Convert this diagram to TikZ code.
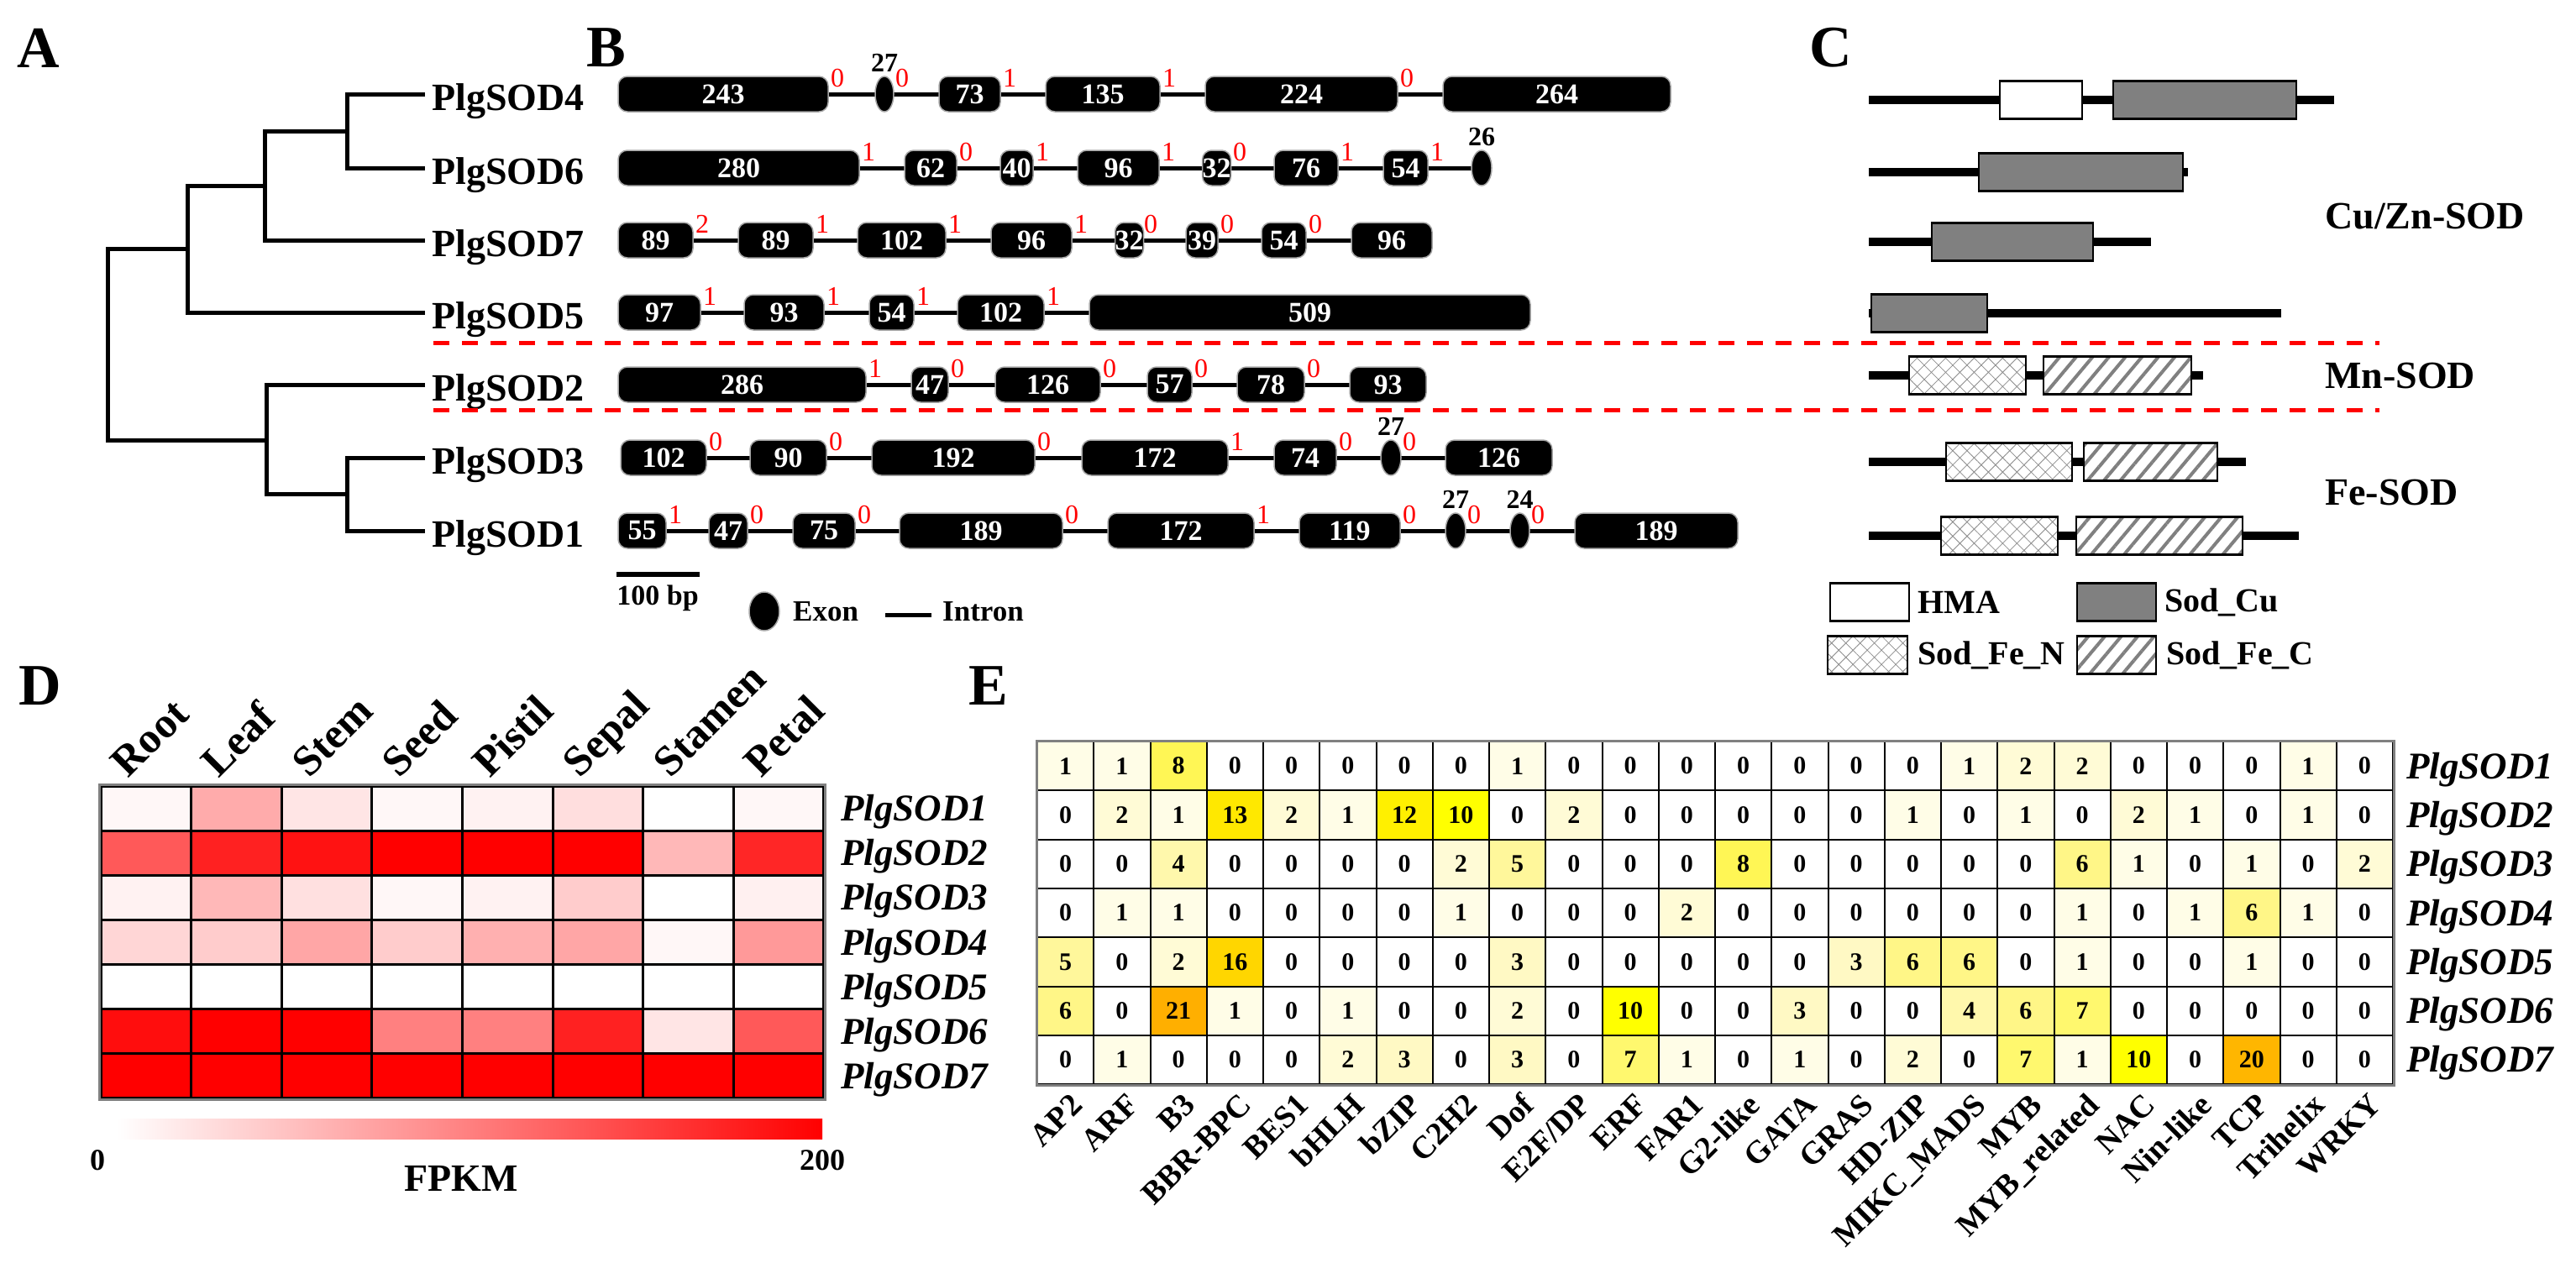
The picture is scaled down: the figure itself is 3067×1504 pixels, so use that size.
\documentclass[tikz,border=0pt]{standalone}
\usepackage{fontspec}
\setmainfont{Liberation Serif}
\usetikzlibrary{shapes.geometric,patterns.meta,backgrounds}
\newcommand\fsz[1]{\fontsize{#1}{#1}\selectfont}
\definecolor{ev0}{RGB}{255,255,255}
\definecolor{ev1}{RGB}{255,253,231}
\definecolor{ev2}{RGB}{255,251,214}
\definecolor{ev3}{RGB}{255,249,196}
\definecolor{ev4}{RGB}{255,248,172}
\definecolor{ev5}{RGB}{255,247,155}
\definecolor{ev6}{RGB}{255,246,135}
\definecolor{ev7}{RGB}{255,248,110}
\definecolor{ev8}{RGB}{255,246,85}
\definecolor{ev9}{RGB}{255,250,40}
\definecolor{ev10}{RGB}{255,255,0}
\definecolor{ev11}{RGB}{255,247,0}
\definecolor{ev12}{RGB}{255,240,0}
\definecolor{ev13}{RGB}{255,232,0}
\definecolor{ev14}{RGB}{255,226,0}
\definecolor{ev15}{RGB}{255,220,0}
\definecolor{ev16}{RGB}{255,214,0}
\definecolor{ev17}{RGB}{255,205,0}
\definecolor{ev18}{RGB}{255,198,0}
\definecolor{ev19}{RGB}{255,190,0}
\definecolor{ev20}{RGB}{255,182,0}
\definecolor{ev21}{RGB}{255,175,0}
% exon box: name, x1, x2, y, label, phase
\newcommand\ex[6]{%
  \pgfmathsetmacro\exc{(#2+#3)/2}\pgfmathsetmacro\exw{#3-#2}%
  \node[exonbox, minimum width=\exw pt] (#1) at (\exc,#4) {#5};%
  \ifx\relax#6\relax\else\node[phase] (#1p) at (#3+11,#4-19) {#6};\fi}
% small elliptic exon: name, x1, x2, y, top label, phase
\newcommand\sx[6]{%
  \pgfmathsetmacro\exc{(#2+#3)/2}\pgfmathsetmacro\exw{#3-#2}%
  \node[exonell, minimum width=\exw pt] (#1) at (\exc,#4) {};%
  \node[smalllab] (#1t) at (\exc,#4-26) {#5};%
  \ifx\relax#6\relax\else\node[phase] (#1p) at (#3+10,#4-19) {#6};\fi}
% domain box: name, x1, x2, y, style
\newcommand\cb[5]{%
  \pgfmathsetmacro\exc{(#2+#3)/2}\pgfmathsetmacro\exw{#3-#2}%
  \node[#5, minimum width=\exw pt] (#1) at (\exc,#4) {};}
\begin{document}
\begin{tikzpicture}[x=1pt,y=-1pt,
  panel/.style={font=\bfseries\fsz{70}, inner sep=0},
  gene/.style={font=\bfseries\fsz{46}, anchor=base west, inner xsep=8pt, inner ysep=0},
  branch/.style={line width=5pt, line join=miter},
  exonbox/.style={fill=black, draw=gray!70, line width=1.5pt, rounded corners=11pt, minimum height=42pt, inner sep=0, text=white, font=\bfseries\fsz{34}},
  exonell/.style={ellipse, fill=black, draw=gray!70, line width=1.5pt, minimum height=42pt, inner sep=0},
  phase/.style={text=red, font=\fsz{32}, inner sep=0},
  smalllab/.style={font=\bfseries\fsz{32}, inner sep=0, anchor=south},
  intron/.style={line width=5pt},
  sepline/.style={red, line width=5pt, dash pattern=on 19pt off 15pt},
  cline/.style={line width=10pt},
  cbox/.style={draw=black, line width=2.5pt, inner sep=0, minimum height=45pt},
  hmabox/.style={cbox, fill=white},
  cubox/.style={cbox, fill=black!50},
  fenbox/.style={cbox, preaction={fill=white}, pattern={Hatch[angle=45,distance=12pt,line width=0.8pt]}, pattern color=black!45},
  fecbox/.style={cbox, preaction={fill=white}, pattern={Lines[angle=50,distance=15pt,line width=4pt]}, pattern color=black!50},
  grp/.style={font=\bfseries\fsz{46}, anchor=west, inner sep=0},
  lgd/.style={font=\bfseries\fsz{40}, anchor=west, inner sep=0},
  hcell/.style={draw=black, line width=3pt, minimum width=107.6pt, minimum height=53.14pt, inner sep=0},
  ecell/.style={draw=black, line width=2pt, minimum width=67.25pt, minimum height=58.3pt, inner sep=0, font=\bfseries\fsz{30}},
  rowlab/.style={font=\bfseries\itshape\fsz{45}, anchor=base west, inner sep=0},
]
\useasboundingbox (0,0) rectangle (3067,1504);

% ---------- panel letters
\node[panel] (pA) at (46,57) {A};
\node[panel] (pB) at (722,57) {B};
\node[panel] (pC) at (2180,57) {C};
\node[panel] (pD) at (48,817) {D};
\node[panel] (pE) at (1177,817) {E};

% ---------- A: tree
\coordinate (t4) at (506,112);
\coordinate (t6) at (506,200);
\coordinate (t7) at (506,286);
\coordinate (t5) at (506,372);
\coordinate (t2) at (506,458);
\coordinate (t3) at (506,545);
\coordinate (t1) at (506,632);
\coordinate (n46) at (413,156);
\coordinate (n467) at (315,221);
\coordinate (n4675) at (223,296);
\coordinate (nroot) at (128,410);
\coordinate (n231) at (317,524);
\coordinate (n31) at (413,588);
\foreach \g in {4,6,7,5,2,3,1}{\node[gene] (l\g) at ([yshift=-19pt]t\g) {PlgSOD\g};}
\draw[branch] (t4) -| (n46) |- (t6);
\draw[branch] (n46) -| (n467) |- (t7);
\draw[branch] (n467) -| (n4675) |- (t5);
\draw[branch] (n4675) -| (nroot) |- (n231);
\draw[branch] (t2) -| (n231) |- (n31);
\draw[branch] (t3) -| (n31) |- (t1);

% ---------- B: gene structures
% PlgSOD4
\ex{xa1}{736}{986}{112}{243}{0}
\sx{xa2}{1042}{1064}{112}{27}{0}
\ex{xa3}{1118}{1191}{112}{73}{1}
\ex{xa4}{1245}{1381}{112}{135}{1}
\ex{xa5}{1435}{1664}{112}{224}{0}
\ex{xa6}{1718}{1989}{112}{264}{}
% PlgSOD6
\ex{xb1}{736}{1023}{200}{280}{1}
\ex{xb2}{1077}{1139}{200}{62}{0}
\ex{xb3}{1191}{1230}{200}{40}{1}
\ex{xb4}{1283}{1380}{200}{96}{1}
\ex{xb5}{1432}{1465}{200}{32}{0}
\ex{xb6}{1517}{1593}{200}{76}{1}
\ex{xb7}{1647}{1700}{200}{54}{1}
\sx{xb8}{1752}{1776}{200}{26}{}
% PlgSOD7
\ex{xc1}{736}{825}{286}{89}{2}
\ex{xc2}{879}{968}{286}{89}{1}
\ex{xc3}{1021}{1126}{286}{102}{1}
\ex{xc4}{1180}{1276}{286}{96}{1}
\ex{xc5}{1330}{1359}{286}{32}{0}
\ex{xc6}{1412}{1450}{286}{39}{0}
\ex{xc7}{1502}{1555}{286}{54}{0}
\ex{xc8}{1609}{1705}{286}{96}{}
% PlgSOD5
\ex{xd1}{736}{834}{372}{97}{1}
\ex{xd2}{886}{981}{372}{93}{1}
\ex{xd3}{1035}{1088}{372}{54}{1}
\ex{xd4}{1140}{1243}{372}{102}{1}
\ex{xd5}{1297}{1822}{372}{509}{}
% PlgSOD2
\ex{xf1}{736}{1031}{458}{286}{1}
\ex{xf2}{1085}{1129}{458}{47}{0}
\ex{xf3}{1185}{1310}{458}{126}{0}
\ex{xf4}{1366}{1419}{458}{57}{0}
\ex{xf5}{1473}{1553}{458}{78}{0}
\ex{xf6}{1607}{1698}{458}{93}{}
% PlgSOD3
\ex{xg1}{739}{841}{545}{102}{0}
\ex{xg2}{893}{984}{545}{90}{0}
\ex{xg3}{1038}{1232}{545}{192}{0}
\ex{xg4}{1288}{1462}{545}{172}{1}
\ex{xg5}{1517}{1591}{545}{74}{0}
\sx{xg6}{1644}{1668}{545}{27}{0}
\ex{xg7}{1721}{1848}{545}{126}{}
% PlgSOD1
\ex{xh1}{736}{793}{632}{55}{1}
\ex{xh2}{844}{890}{632}{47}{0}
\ex{xh3}{944}{1018}{632}{75}{0}
\ex{xh4}{1071}{1265}{632}{189}{0}
\ex{xh5}{1319}{1493}{632}{172}{1}
\ex{xh6}{1547}{1667}{632}{119}{0}
\sx{xh7}{1721}{1745}{632}{27}{0}
\sx{xh8}{1798}{1821}{632}{24}{0}
\ex{xh9}{1875}{2069}{632}{189}{}
\begin{scope}[on background layer]
\draw[intron] (xa1.center) -- (xa6.center);
\draw[intron] (xb1.center) -- (xb8.center);
\draw[intron] (xc1.center) -- (xc8.center);
\draw[intron] (xd1.center) -- (xd5.center);
\draw[intron] (xf1.center) -- (xf6.center);
\draw[intron] (xg1.center) -- (xg7.center);
\draw[intron] (xh1.center) -- (xh9.center);
\end{scope}

% separators
\coordinate (s1a) at (516,408); \coordinate (s1b) at (2833,408);
\coordinate (s2a) at (516,488); \coordinate (s2b) at (2833,488);
\draw[sepline] (s1a) -- (s1b);
\draw[sepline] (s2a) -- (s2b);

% scale bar and legend
\coordinate (sb1) at (734,684); \coordinate (sb2) at (833,684);
\draw[line width=6pt] (sb1) -- (sb2);
\node[font=\bfseries\fsz{34}, inner sep=0] (sbt) at (783,712) {100 bp};
\node[exonell, minimum width=36pt, minimum height=46pt] (lgx) at (910,728) {};
\node[font=\bfseries\fsz{35}, anchor=west, inner sep=0] (lgxt) at (944,728) {Exon};
\coordinate (li1) at (1054,732); \coordinate (li2) at (1109,732);
\draw[intron] (li1) -- (li2);
\node[font=\bfseries\fsz{35}, anchor=west, inner sep=0] (lgit) at (1122,728) {Intron};

% ---------- C: domains
\coordinate (ca1) at (2225,119); \coordinate (ca2) at (2779,119);
\coordinate (cb1) at (2225,205); \coordinate (cb2) at (2605,205);
\coordinate (cc1) at (2225,288); \coordinate (cc2) at (2561,288);
\coordinate (cd1) at (2225,373); \coordinate (cd2) at (2716,373);
\coordinate (ce1) at (2225,447); \coordinate (ce2) at (2623,447);
\coordinate (cf1) at (2225,550); \coordinate (cf2) at (2674,550);
\coordinate (cg1) at (2225,638); \coordinate (cg2) at (2737,638);
\foreach \q in {a,b,c,d,e,f,g}{\draw[cline] (c\q1) -- (c\q2);}
\cb{da1}{2381}{2479}{119}{hmabox}
\cb{da2}{2516}{2734}{119}{cubox}
\cb{db1}{2356}{2599}{205}{cubox}
\cb{dc1}{2300}{2492}{288}{cubox}
\cb{dd1}{2228}{2366}{373}{cubox}
\cb{de1}{2273}{2412}{447}{fenbox}
\cb{de2}{2433}{2609}{447}{fecbox}
\cb{df1}{2317}{2467}{550}{fenbox}
\cb{df2}{2481}{2640}{550}{fecbox}
\cb{dg1}{2311}{2450}{638}{fenbox}
\cb{dg2}{2472}{2670}{638}{fecbox}
\node[grp] (gcu) at (2768,258) {Cu/Zn-SOD};
\node[grp] (gmn) at (2768,447) {Mn-SOD};
\node[grp] (gfe) at (2768,586) {Fe-SOD};
% legend
\cb{lg1}{2179}{2273}{717}{hmabox}
\node[lgd] (lg1t) at (2283,717) {HMA};
\cb{lg2}{2473}{2567}{717}{cubox}
\node[lgd] (lg2t) at (2577,717) {Sod\_Cu};
\cb{lg3}{2176}{2271}{780}{fenbox}
\node[lgd] (lg3t) at (2283,780) {Sod\_Fe\_N};
\cb{lg4}{2473}{2567}{780}{fecbox}
\node[lgd] (lg4t) at (2579,780) {Sod\_Fe\_C};

% ---------- D: expression heatmap
\foreach \r/\vals in {1/{3,33,10,3,5,13,0,3},2/{65,87,93,100,100,100,28,85},3/{5,28,12,3,5,20,0,6},4/{16,20,35,20,31,35,3,40},5/{0,0,0,0,0,0,0,0},6/{95,100,100,50,50,87,10,65},7/{100,100,100,100,100,100,100,100}}{
  \foreach \v [count=\c] in \vals {
    \node[hcell, fill=red!\v] (d\r-\c) at ({120+107.6*(\c-0.5)},{936+53.14*(\r-0.5)}) {};
  }
  \node[rowlab] (dl\r) at (1001,{936+53.14*(\r-0.5)+15}) {PlgSOD\r};
}
\draw[gray, line width=3pt] (d1-1.north west) rectangle (d7-8.south east);
\foreach \t [count=\c] in {Root,Leaf,Stem,Seed,Pistil,Sepal,Stamen,Petal}{
  \node[rotate=45, anchor=base west, inner sep=0, font=\bfseries\fsz{51}] (dc\c) at ({120+107.6*(\c-0.5)-21},928) {\t};
}
\node[minimum width=840pt, minimum height=24pt, inner sep=0, left color=white, right color=red] (cbar) at (559,1344) {};
\node[font=\bfseries\fsz{36}, inner sep=0] (cb0) at (116,1382) {0};
\node[font=\bfseries\fsz{36}, inner sep=0] (cb200) at (979,1382) {200};
\node[font=\bfseries\fsz{46}, inner sep=0] (cbl) at (549,1403) {FPKM};

% ---------- E: cis-element counts
\foreach \r/\vals in {1/{1,1,8,0,0,0,0,0,1,0,0,0,0,0,0,0,1,2,2,0,0,0,1,0},2/{0,2,1,13,2,1,12,10,0,2,0,0,0,0,0,1,0,1,0,2,1,0,1,0},3/{0,0,4,0,0,0,0,2,5,0,0,0,8,0,0,0,0,0,6,1,0,1,0,2},4/{0,1,1,0,0,0,0,1,0,0,0,2,0,0,0,0,0,0,1,0,1,6,1,0},5/{5,0,2,16,0,0,0,0,3,0,0,0,0,0,3,6,6,0,1,0,0,1,0,0},6/{6,0,21,1,0,1,0,0,2,0,10,0,0,3,0,0,4,6,7,0,0,0,0,0},7/{0,1,0,0,0,2,3,0,3,0,7,1,0,1,0,2,0,7,1,10,0,20,0,0}}{
  \foreach \v [count=\c] in \vals {
    \node[ecell, fill=ev\v] (e\r-\c) at ({1235+67.25*(\c-0.5)},{883+58.3*(\r-0.5)}) {\v};
  }
  \node[rowlab] (el\r) at (2865,{883+58.3*(\r-0.5)+15}) {PlgSOD\r};
}
\draw[gray, line width=3pt] (e1-1.north west) rectangle (e7-24.south east);
\foreach \t [count=\c] in {AP2,ARF,B3,BBR-BPC,BES1,bHLH,bZIP,C2H2,Dof,E2F/DP,ERF,FAR1,G2-like,GATA,GRAS,HD-ZIP,MIKC\_MADS,MYB,MYB\_related,NAC,Nin-like,TCP,Trihelix,WRKY}{
  \node[rotate=45, anchor=base east, inner sep=0, font=\bfseries\fsz{38}] (ec\c) at ({1235+67.25*(\c-0.5)+22},1318) {\t};
}
\end{tikzpicture}
\end{document}
